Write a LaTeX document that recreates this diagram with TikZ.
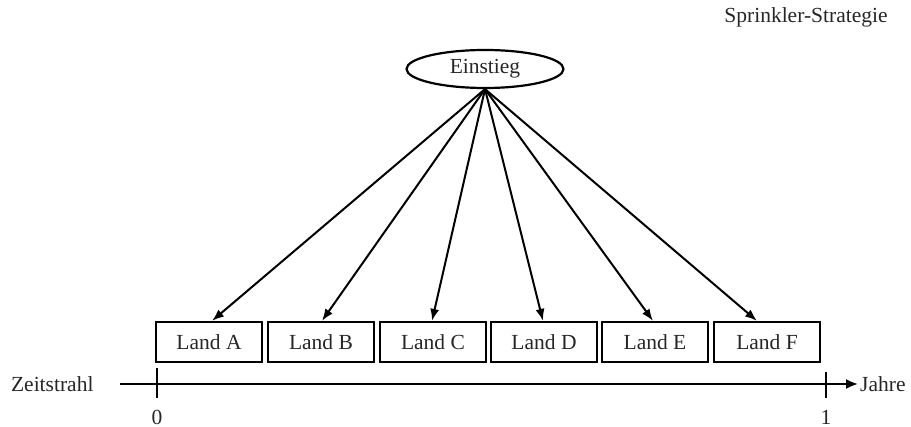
\documentclass[tikz,border=0pt]{standalone}
\usepackage{fontspec}
\setmainfont{Liberation Serif}
\usetikzlibrary{arrows.meta,calc,shapes.geometric}
\begin{document}
\begin{tikzpicture}[x=1pt,y=-1pt,
  txt/.style={font=\fontsize{21.5}{25}\selectfont, text=black!85},
  landbox/.style={txt, draw, line width=2.2pt, minimum width=106pt, minimum height=40pt, inner sep=0pt},
  conn/.style={line width=2pt, -{Latex[length=12pt,width=9pt]}},
  tick/.style={line width=2pt}]
\useasboundingbox (0,0) rectangle (911,427);
\node[txt] (title) at (806,17) {Sprinkler-Strategie};
\node[txt, draw, ellipse, line width=2.2pt, minimum width=157pt, minimum height=38pt, inner sep=0pt] (ein) at (485,69) {Einstieg};
\node[landbox] (A) at (209,342) {Land A};
\node[landbox] (B) at (321,342) {Land B};
\node[landbox] (C) at (433,342) {Land C};
\node[landbox] (D) at (544,342) {Land D};
\node[landbox] (E) at (655,342) {Land E};
\node[landbox] (F) at (767,342) {Land F};
\coordinate (src) at (ein.south);
\draw[conn] (src) -- ($(A.north)+(3,0)$);
\draw[conn] (src) -- ($(B.north)+(1,0)$);
\draw[conn] (src) -- ($(C.north)+(-1,0)$);
\draw[conn] (src) -- ($(D.north)+(-1,0)$);
\draw[conn] (src) -- ($(E.north)+(-2,0)$);
\draw[conn] (src) -- ($(F.north)+(-10,0)$);
\node[txt, anchor=east] (zeit) at (97,384) {Zeitstrahl};
\coordinate (tl0) at (120,384);
\node[txt, anchor=west, inner sep=2pt] (jahre) at (858,384) {Jahre};
\draw[line width=2pt, -{Latex[length=12pt,width=10pt]}] (tl0) -- (jahre.west);
\coordinate (t0) at (157,384);
\coordinate (t1) at (826,384);
\draw[tick] ($(t0)+(0,-16)$) -- ($(t0)+(0,14)$);
\draw[tick] ($(t1)+(0,-12)$) -- ($(t1)+(0,14)$);
\node[txt] (n0) at (157,417) {0};
\node[txt] (n1) at (826,417) {1};
\end{tikzpicture}
\end{document}
